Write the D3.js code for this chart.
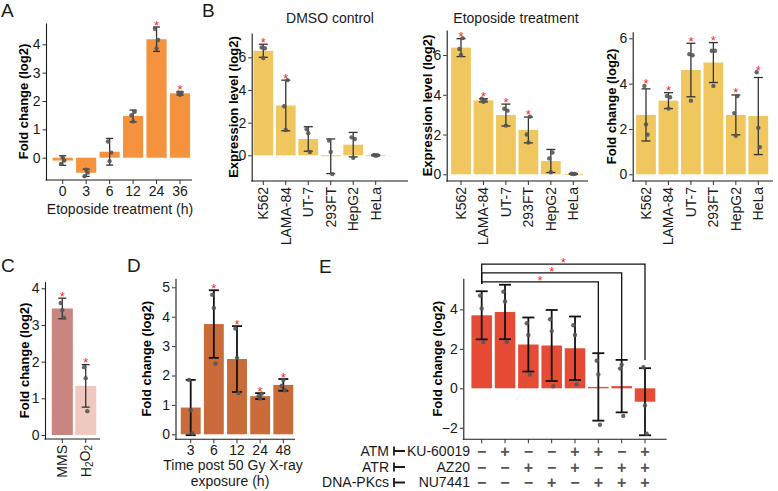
<!DOCTYPE html>
<html><head><meta charset="utf-8">
<script src="https://cdn.jsdelivr.net/npm/d3@7"></script>
<style>body{margin:0;background:#fff} svg text{font-family:"Liberation Sans",Arial,sans-serif}</style>
</head><body><svg id="c" width="778" height="491"></svg>
<script>
// ---------- DATA ----------
// Panel A
const catsA = ["0","3","6","12","24","36"];
const meanA = [-0.1,-0.53,0.21,1.47,4.18,2.27];
const sdA   = [0.17,0.13,0.47,0.21,0.43,0.06];
const ptsA  = [[-0.22,0.02,-0.1],[-0.65,-0.42,-0.52],[0.57,-0.12,0.18],[1.5,1.28,1.62],[4.55,3.85,4.15],[2.3,2.22,2.29]];
const starA = [0,0,0,0,1,1];
const ticksA = [0,1,2,3,4];
// Panel B
const catsB = ["K562","LAMA-84","UT-7","293FT","HepG2","HeLa"];
const meanB1 = [6.4,3.05,1.0,-0.06,0.65,0.0];
const sdB1   = [0.4,1.55,0.75,1.06,0.75,0.03];
const ptsB1  = [[6.6,5.95,6.55],[3.0,1.55,4.6],[1.6,1.35,0.2],[0.9,0.2,-1.15],[1.1,-0.15,1.0],[0.02,-0.02,0.0]];
const starB1 = [1,1,0,0,0,0];
const meanB2 = [6.37,3.72,2.98,2.23,0.67,0.02];
const sdB2   = [0.45,0.08,0.55,0.65,0.58,0.02];
const ptsB2  = [[6.3,6.0,6.85],[3.8,3.65,3.72],[3.3,2.45,3.2],[2.0,1.6,2.9],[0.8,0.1,1.1],[0.03,0.01,0.02]];
const starB2 = [1,1,1,1,0,0];
const meanB3 = [2.62,3.25,4.6,4.93,2.62,2.57];
const sdB3   = [1.15,0.35,1.18,0.88,0.88,1.7];
const ptsB3  = [[3.9,2.2,1.75],[3.45,2.9,3.4],[5.3,3.25,5.25],[5.45,3.9,5.45],[2.7,1.7,3.45],[4.5,2.05,1.2]];
const starB3 = [1,1,1,1,1,1];
const ticksB = [0,2,4,6];
// Panel C
const catsC = ["MMS","H2O2"];
const meanC = [3.45,1.34];
const sdC   = [0.28,0.58];
const ptsC  = [[3.6,3.4,3.2],[1.85,1.55,0.65]];
const starC = [1,1];
const ticksC = [0,1,2,3,4];
// Panel D
const catsD = ["3","6","12","24","48"];
const meanD = [0.91,3.75,2.56,1.3,1.68];
const sdD   = [0.94,1.15,1.12,0.1,0.2];
const ptsD  = [[1.85,0.82,0.03],[4.75,4.3,2.4],[3.6,2.6,1.4],[1.3,1.22,1.38],[1.65,1.85,1.5]];
const starD = [0,1,1,1,1];
const ticksD = [0,1,2,3,4,5];
// Panel E
const catsE = ["c1","c2","c3","c4","c5","c6","c7","c8"];
const meanE = [3.7,3.87,2.22,2.17,2.03,0.07,0.11,-0.68];
const sdE   = [1.22,1.38,1.37,1.8,1.61,1.71,1.33,1.7];
const ptsE  = [[4.7,4.05,2.35],[4.9,4.4,2.35],[3.3,2.7,0.7],[3.5,2.9,0.1],[3.2,2.7,0.2],[1.4,0.7,-1.85],[1.0,1.2,-1.4],[1.07,-0.87,-2.3]];
const ticksE = [-2,0,2,4];
const sigPairs = [[0,5],[0,6],[0,7]];
const sigLevels = [5.4,5.85,6.3];
const sigLeftTo = [5.3,5.3,5.3];
const sigRightTo = [1.78,1.47,1.43];
const inhTargets = ["ATM","ATR","DNA-PKcs"];
const inhDrugs = ["KU-60019","AZ20","NU7441"];
const signATM  = ["−","+","−","−","+","+","−","+"];
const signATR  = ["−","−","+","−","+","−","+","+"];
const signDNAPK= ["−","−","−","+","−","+","+","+"];

// ---------- DRAW ----------
const svg = d3.select("#c");
const FONT = "'Liberation Sans',Arial,sans-serif";
const intFmt = d3.format("d");

function panel(cfg){
  const g = svg.append("g");
  const n = cfg.cats.length;
  const step = (cfg.cN - cfg.c0)/(n-1);
  const x = d3.scaleBand().domain(cfg.cats).range([cfg.c0 - step/2, cfg.cN + step/2])
      .paddingInner(cfg.pad).paddingOuter(cfg.pad/2);
  const yr = d3.scaleLinear().domain([cfg.v1,cfg.v2]).range([cfg.p1,cfg.p2]);
  const y = d3.scaleLinear().domain([yr.invert(cfg.yBot), yr.invert(cfg.yTop)]).range([cfg.yBot,cfg.yTop]);
  const cx = i => x(cfg.cats[i]) + x.bandwidth()/2;
  // bars
  g.selectAll("rect.bar").data(cfg.mean).join("rect").attr("class","bar")
    .attr("x",(d,i)=>x(cfg.cats[i])).attr("width",x.bandwidth())
    .attr("y",d=>y(Math.max(0,d))).attr("height",d=>Math.max(0.8,Math.abs(y(d)-y(0))))
    .attr("fill",(d,i)=>Array.isArray(cfg.color)?cfg.color[i]:cfg.color);
  // error bars
  const eg = g.append("g").attr("stroke",cfg.errColor).attr("stroke-width",cfg.errW).attr("fill","none");
  cfg.mean.forEach((m,i)=>{
    const s = cfg.sd[i], c = cx(i), hw = cfg.capW/2;
    eg.append("line").attr("x1",c).attr("x2",c).attr("y1",y(m+s)).attr("y2",y(m-s));
    eg.append("line").attr("x1",c-hw).attr("x2",c+hw).attr("y1",y(m+s)).attr("y2",y(m+s));
    eg.append("line").attr("x1",c-hw).attr("x2",c+hw).attr("y1",y(m-s)).attr("y2",y(m-s));
  });
  // points
  cfg.pts.forEach((arr,i)=>{
    g.selectAll(null).data(arr).join("circle")
      .attr("cx",(d,j)=>cx(i)+(j-1)*1.6).attr("cy",d=>y(d)).attr("r",2.2)
      .attr("fill","#555").attr("fill-opacity",0.9);
  });
  // stars
  if(cfg.star){
    cfg.star.forEach((s,i)=>{
      if(!s) return;
      const top = Math.max(cfg.mean[i]+cfg.sd[i], d3.max(cfg.pts[i]));
      g.append("text").attr("x",cx(i)).attr("y",y(top)-5+7.5).attr("text-anchor","middle")
        .attr("font-size",13).attr("fill","#ff1f1f").attr("font-family",FONT).text("*");
    });
  }
  // y axis
  const ya = g.append("g").attr("transform",`translate(${cfg.axisX},0)`)
    .call(d3.axisLeft(y).tickValues(cfg.ticks).tickFormat(intFmt).tickSize(3.5).tickSizeOuter(0).tickPadding(2));
  ya.select(".domain").attr("stroke","#1a1a1a").attr("stroke-width",1.1);
  ya.selectAll(".tick line").attr("stroke","#333");
  ya.selectAll("text").attr("font-size",cfg.tickFs||14).attr("fill","#1a1a1a").attr("font-family",FONT);
  // x axis
  const xa = g.append("g").attr("transform",`translate(0,${cfg.yBot})`)
    .call(d3.axisBottom(x).tickSize(4).tickSizeOuter(0).tickFormat(cfg.xFmt||(d=>d)));
  xa.select(".domain").remove();
  xa.selectAll(".tick line").attr("stroke","#333");
  xa.selectAll("text").attr("font-size",cfg.tickFs||14).attr("fill","#1a1a1a").attr("font-family",FONT);
  if(cfg.rotate){
    xa.selectAll("text").attr("y",0).attr("x",-6).attr("dy","0.35em")
      .attr("transform","rotate(-90)").style("text-anchor","end");
  } else {
    xa.selectAll("text").attr("y",6).attr("dy","0.71em");
  }
  g.append("line").attr("x1",cfg.axisX-0.5).attr("x2",cfg.axisEnd).attr("y1",cfg.yBot).attr("y2",cfg.yBot)
    .attr("stroke","#1a1a1a").attr("stroke-width",1.1);
  // y title
  g.append("text").attr("transform",`translate(${cfg.ytX},${(cfg.yTop+cfg.yBot)/2}) rotate(-90)`)
    .attr("text-anchor","middle").attr("dy","0.35em").attr("font-size",13).attr("font-weight","bold")
    .attr("font-family",FONT).attr("fill","#000").text(cfg.ytitle);
  return {x,y,cx,g,xa};
}

function letter(t,x,y){
  svg.append("text").attr("x",x).attr("y",y).attr("font-size",19).attr("font-family",FONT).attr("fill","#1a1a1a").text(t);
}

// Panel A
const pA = panel({cats:catsA,mean:meanA,sd:sdA,pts:ptsA,star:starA,ticks:ticksA,color:"#f5923e",
  axisX:46,axisEnd:192,yTop:23,yBot:180,v1:0,p1:157.7,v2:4,p2:44.3,c0:62.7,cN:180,pad:0.14,
  capW:7,errW:1.3,errColor:"#333",ytitle:"Fold change (log2)",ytX:23});
svg.append("text").attr("x",120).attr("y",214).attr("text-anchor","middle").attr("font-size",14)
  .attr("font-family",FONT).attr("fill","#1a1a1a").text("Etoposide treatment (h)");
letter("A",1,17);

// Panel B
const yB = "Expression level (log2)";
panel({cats:catsB,mean:meanB1,sd:sdB1,pts:ptsB1,star:starB1,ticks:ticksB,color:"#efc75e",
  axisX:251.7,axisEnd:408,yTop:33,yBot:181,v1:0,p1:155.3,v2:6,p2:57.3,c0:263.3,cN:375.7,pad:0.12,
  capW:9,errW:1.3,errColor:"#333",ytitle:yB,ytX:233,rotate:true});
panel({cats:catsB,mean:meanB2,sd:sdB2,pts:ptsB2,star:starB2,ticks:ticksB,color:"#efc75e",
  axisX:446.7,axisEnd:588,yTop:30,yBot:181,v1:0,p1:174.3,v2:6,p2:55,c0:461,cN:573.3,pad:0.12,
  capW:9,errW:1.3,errColor:"#333",ytitle:yB,ytX:427,rotate:true});
panel({cats:catsB,mean:meanB3,sd:sdB3,pts:ptsB3,star:starB3,ticks:ticksB,color:"#efc75e",
  axisX:632.7,axisEnd:773,yTop:31.7,yBot:181,v1:0,p1:174.3,v2:6,p2:38.3,c0:646,cN:758.3,pad:0.12,
  capW:9,errW:1.3,errColor:"#333",ytitle:"Fold change (log2)",ytX:611,rotate:true});
svg.append("text").attr("x",330).attr("y",23).attr("text-anchor","middle").attr("font-size",14)
  .attr("font-family",FONT).attr("fill","#1a1a1a").text("DMSO control");
svg.append("text").attr("x",516).attr("y",23).attr("text-anchor","middle").attr("font-size",14)
  .attr("font-family",FONT).attr("fill","#1a1a1a").text("Etoposide treatment");
letter("B",202,17);

// Panel C
const pC = panel({cats:catsC,mean:meanC,sd:sdC,pts:ptsC,star:starC,ticks:ticksC,color:["#c98580","#efc8c0"],
  axisX:45,axisEnd:100,yTop:281.7,yBot:439,v1:0,p1:435,v2:4,p2:288.3,c0:62.3,cN:85.7,pad:0.1,
  capW:8,errW:1.3,errColor:"#333",ytitle:"Fold change (log2)",ytX:24,rotate:true,xFmt:d=>d==="H2O2"?"":d});
pC.xa.selectAll(".tick").filter(d=>d==="H2O2").select("text").each(function(){
  const t = d3.select(this);
  t.append("tspan").text("H");
  t.append("tspan").attr("font-size",10).attr("dy","0.25em").text("2");
  t.append("tspan").attr("dy","-0.25em").text("O");
  t.append("tspan").attr("font-size",10).attr("dy","0.25em").text("2");
});
letter("C",1,272);

// Panel D
panel({cats:catsD,mean:meanD,sd:sdD,pts:ptsD,star:starD,ticks:ticksD,color:"#c96c39",
  axisX:175.5,axisEnd:295,yTop:278.3,yBot:439.3,v1:0,p1:434.3,v2:5,p2:287.3,c0:190.7,cN:283.3,pad:0.14,
  capW:10,errW:1.8,errColor:"#111",ytitle:"Fold change (log2)",ytX:146});
svg.append("text").attr("x",233).attr("y",470).attr("text-anchor","middle").attr("font-size",14)
  .attr("font-family",FONT).attr("fill","#1a1a1a").text("Time post 50 Gy X-ray");
svg.append("text").attr("x",230).attr("y",486).attr("text-anchor","middle").attr("font-size",14)
  .attr("font-family",FONT).attr("fill","#1a1a1a").text("exposure (h)");
letter("D",127,272);

// Panel E
const pE = panel({cats:catsE,mean:meanE,sd:sdE,pts:ptsE,star:null,ticks:ticksE,color:"#e64b35",
  axisX:463.3,axisEnd:666.7,yTop:278.3,yBot:439.3,v1:0,p1:388.3,v2:4,p2:309.4,c0:481.7,cN:645,pad:0.12,
  capW:12,errW:1.8,errColor:"#111",ytitle:"Fold change (log2)",ytX:437,xFmt:()=>""});
letter("E",319,273);
// significance brackets
sigPairs.forEach((p,k)=>{
  const xl = pE.cx(p[0]), xr = pE.cx(p[1]), yl = pE.y(sigLevels[k]);
  pE.g.append("path").attr("fill","none").attr("stroke","#111").attr("stroke-width",1.3)
    .attr("d",`M${xl},${pE.y(sigLeftTo[k])}V${yl}H${xr}V${pE.y(sigRightTo[k])}`);
  pE.g.append("text").attr("x",(xl+xr)/2).attr("y",yl-4.7+7.5).attr("text-anchor","middle")
    .attr("font-size",13).attr("fill","#ff1f1f").attr("font-family",FONT).text("*");
});
// inhibitor table
const signRows = [signATM, signATR, signDNAPK];
const rowY = [451,467,482.5];
signRows.forEach((row,r)=>{
  const cy = rowY[r];
  svg.append("text").attr("x",389).attr("y",cy).attr("dy","0.35em").attr("text-anchor","end")
    .attr("font-size",14).attr("font-family",FONT).attr("fill","#1a1a1a").text(inhTargets[r]);
  svg.append("path").attr("fill","none").attr("stroke","#1a1a1a").attr("stroke-width",1.8)
    .attr("d",`M394,${cy-4.5}V${cy+4.5}M394,${cy}H405`);
  svg.append("text").attr("x",470).attr("y",cy).attr("dy","0.35em").attr("text-anchor","end")
    .attr("font-size",14).attr("font-family",FONT).attr("fill","#1a1a1a").text(inhDrugs[r]);
  svg.selectAll(null).data(row).join("text")
    .attr("x",(d,i)=>pE.cx(i)).attr("y",cy).attr("dy","0.35em").attr("text-anchor","middle")
    .attr("font-size",16).attr("font-weight","bold").attr("font-family",FONT).attr("fill","#555").text(d=>d);
});
</script></body></html>
